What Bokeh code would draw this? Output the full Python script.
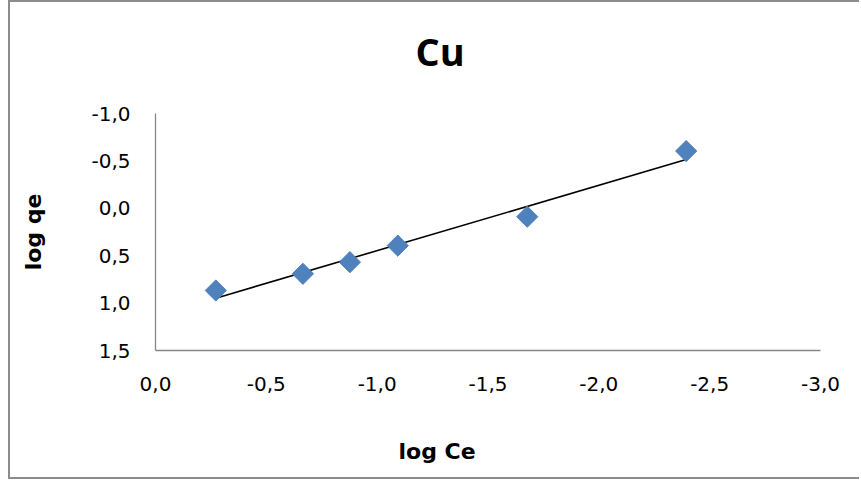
import numpy as np
from bokeh.plotting import figure
from bokeh.models import Range1d, FixedTicker, Title, ColumnDataSource
from bokeh.embed import file_html
from bokeh.resources import INLINE

# ---- data ----
log_ce = [-0.272, -0.665, -0.877, -1.093, -1.677, -2.394]
log_qe = [0.867, 0.691, 0.568, 0.394, 0.089, -0.604]

x_ticks = [0.0, -0.5, -1.0, -1.5, -2.0, -2.5, -3.0]
x_tick_labels = ["0,0", "-0,5", "-1,0", "-1,5", "-2,0", "-2,5", "-3,0"]
y_ticks = [-1.0, -0.5, 0.0, 0.5, 1.0, 1.5]
y_tick_labels = ["-1,0", "-0,5", "0,0", "0,5", "1,0", "1,5"]

title_text = "Cu"
x_title = "log Ce"
y_title = "log qe"

TITLE_FONT = "Open Sans"
FONT = "DejaVu Sans"
W, H = 851, 479

# linear trendline (least squares)
slope, intercept = np.polyfit(log_ce, log_qe, 1)
tx = [min(log_ce), max(log_ce)]
ty = [slope * v + intercept for v in tx]

p = figure(width=W, height=H, output_backend="svg", toolbar_location=None,
           x_range=Range1d(0, -3), y_range=Range1d(1.5, -1.0),
           min_border_left=145, min_border_right=41,
           min_border_top=111, min_border_bottom=131)
p.styles = {"margin-left": "8px", "border-left": "2px solid #8c8c8c",
            "border-top": "2px solid #8c8c8c", "border-bottom": "2px solid #8c8c8c"}
p.background_fill_color = "white"
p.border_fill_color = "white"
p.outline_line_color = None
p.grid.visible = False

for ax, ticks, labels in ((p.xaxis[0], x_ticks, x_tick_labels), (p.yaxis[0], y_ticks, y_tick_labels)):
    ax.ticker = FixedTicker(ticks=ticks)
    ax.major_label_overrides = {t: l for t, l in zip(ticks, labels)}
    ax.axis_line_color = "#868686"
    ax.axis_line_width = 1.3
    ax.major_tick_line_color = None
    ax.minor_tick_line_color = None
    ax.major_tick_out = 0
    ax.major_tick_in = 0
    ax.major_label_text_font = FONT
    ax.major_label_text_font_size = "20px"
    ax.major_label_text_color = "#000000"

p.xaxis[0].major_label_standoff = 26
p.yaxis[0].major_label_standoff = 25

p.yaxis[0].axis_label = y_title
p.yaxis[0].axis_label_text_font = FONT
p.yaxis[0].axis_label_text_font_style = "bold"
p.yaxis[0].axis_label_text_font_size = "22px"
p.yaxis[0].axis_label_text_color = "#000000"
p.yaxis[0].axis_label_standoff = 42

# spacer between frame and main title
p.add_layout(Title(text=" ", text_font=TITLE_FONT, text_font_size="10px", standoff=19), "above")

p.title.text = title_text
p.title.text_font = TITLE_FONT
p.title.text_font_style = "bold"
p.title.text_font_size = "38px"
p.title.text_color = "#000000"
p.title.align = "left"
p.title.offset = 260
p.title.vertical_align = "top"
p.title.standoff = 0

# spacer between x axis and its title, then the title
p.add_layout(Title(text=" ", text_font=TITLE_FONT, text_font_size="10px", standoff=29), "below")
p.add_layout(Title(text=x_title, text_font=FONT, text_font_style="bold",
                   text_font_size="22px", text_color="#000000",
                   align="left", offset=243, vertical_align="top", standoff=0), "below")

p.line(tx, ty, line_color="black", line_width=1.6)
src = ColumnDataSource(dict(x=log_ce, y=log_qe))
p.scatter("x", "y", source=src, marker="square", size=15, angle=np.pi / 4,
          fill_color="#4F81BD", line_color="#4F81BD")

open("out.html", "w").write(file_html(p, INLINE))
